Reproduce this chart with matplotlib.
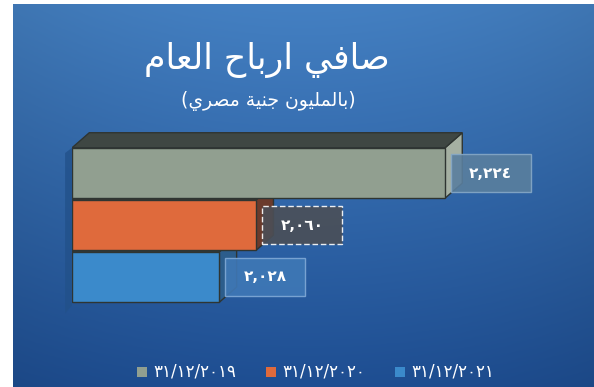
import numpy as np
import matplotlib
matplotlib.use("Agg")
import matplotlib.pyplot as plt
from matplotlib.patches import Polygon, Rectangle

# net profit per year, millions EGP
years = ["٣١/١٢/٢٠١٩", "٣١/١٢/٢٠٢٠", "٣١/١٢/٢٠٢١"]
profits = [2224, 2060, 2028]
value_labels = ["٢,٢٢٤", "٢,٠٦٠", "٢,٠٢٨"]

title = "صافي ارباح العام"
subtitle = "(بالمليون جنية مصري)"

bar_colors = ["#919f90", "#df6a3c", "#3b8acb"]
side_colors = ["#a5b0a2", "#6b3b2c", "#2c5d8c"]
top_colors = ["#3f4743", "#8a4a30", "#2c5d8c"]

# contextual Arabic forms: isolated, final[, initial, medial]
FORMS = {
    "ا": ("\uFE8D", "\uFE8E"),
    "ب": ("\uFE8F", "\uFE90", "\uFE91", "\uFE92"),
    "ة": ("\uFE93", "\uFE94"),
    "ج": ("\uFE9D", "\uFE9E", "\uFE9F", "\uFEA0"),
    "ح": ("\uFEA1", "\uFEA2", "\uFEA3", "\uFEA4"),
    "ر": ("\uFEAD", "\uFEAE"),
    "ص": ("\uFEB9", "\uFEBA", "\uFEBB", "\uFEBC"),
    "ع": ("\uFEC9", "\uFECA", "\uFECB", "\uFECC"),
    "ف": ("\uFED1", "\uFED2", "\uFED3", "\uFED4"),
    "ل": ("\uFEDD", "\uFEDE", "\uFEDF", "\uFEE0"),
    "م": ("\uFEE1", "\uFEE2", "\uFEE3", "\uFEE4"),
    "ن": ("\uFEE5", "\uFEE6", "\uFEE7", "\uFEE8"),
    "و": ("\uFEED", "\uFEEE"),
    "ي": ("\uFEF1", "\uFEF2", "\uFEF3", "\uFEF4"),
}


def shape(text):
    out = []
    for i, ch in enumerate(text):
        if ch not in FORMS:
            out.append(ch)
            continue
        prev = text[i - 1] if i > 0 else ""
        nxt = text[i + 1] if i + 1 < len(text) else ""
        joins_prev = prev in FORMS and len(FORMS[prev]) == 4
        joins_next = len(FORMS[ch]) == 4 and nxt in FORMS
        f = FORMS[ch]
        if joins_prev and joins_next:
            out.append(f[3])
        elif joins_prev:
            out.append(f[1])
        elif joins_next:
            out.append(f[2])
        else:
            out.append(f[0])
    vis = "".join(reversed(out))
    return vis.translate(str.maketrans("()", ")("))


W, H = 594, 387
fig = plt.figure(figsize=(W / 100, H / 100), dpi=100)
fig.patch.set_facecolor("white")

# blue slide background
bg = fig.add_axes([13 / W, 0, 1 - 13 / W, 383 / H], zorder=0)
top = np.array([0x44, 0x80, 0xc2]) / 255
bottom = np.array([0x1e, 0x4e, 0x92]) / 255
t = np.linspace(0, 1, 200)[:, None, None]
grad = top * (1 - t) + bottom * t
xs = np.linspace(-1, 1, 300)[None, :, None]
grad = grad * (1 - 0.08 * xs ** 2)
bg.imshow(np.clip(grad, 0, 1), aspect="auto", extent=[0, 1, 0, 1])
bg.axis("off")

fig.text(267 / W, 1 - 60 / H, shape(title), color="white", fontsize=25,
         ha="center", va="center", family="DejaVu Sans")
fig.text(268 / W, 1 - 101 / H, shape(subtitle), color="white", fontsize=13.5,
         ha="center", va="center", family="DejaVu Sans")

x0, x1 = 1900, 2300
ax = fig.add_axes([72 / W, 77 / H, 460.5 / W, 190 / H], zorder=1)
ax.set_xlim(x0, x1)
ax.set_ylim(-0.635, 3.02)
ax.axis("off")
ax.patch.set_alpha(0)

ypos = [2, 1, 0]
h = 0.97
dx, dy = 15, 0.29  # depth of the 3D bars

# dark edge of the side wall left of the bars
ax.add_patch(Polygon([(x0 - 6, -0.7), (x0, -0.55), (x0, 2 + h / 2),
                      (x0 - 6, 2 + h / 2 - 0.1)], closed=True,
                     facecolor="#22518a", edgecolor="none", alpha=0.8,
                     zorder=1, clip_on=False))

for v, y, sc, tc in zip(profits, ypos, side_colors, top_colors):
    side = Polygon([(v, y - h / 2), (v, y + h / 2), (v + dx, y + h / 2 + dy),
                    (v + dx, y - h / 2 + dy)], closed=True, facecolor=sc,
                   edgecolor="#2f3532", lw=1, zorder=1)
    topf = Polygon([(x0, y + h / 2), (v, y + h / 2), (v + dx, y + h / 2 + dy),
                    (x0 + dx, y + h / 2 + dy)], closed=True, facecolor=tc,
                   edgecolor="#2f3532", lw=1, zorder=1)
    ax.add_patch(side)
    ax.add_patch(topf)

ax.barh(ypos, [v - x0 for v in profits], left=x0, height=h, color=bar_colors,
        edgecolor="#2f3532", linewidth=1, zorder=2)

# value boxes next to each bar
box_w, box_h = 69.5, 0.73
box_face = ["#5a7f9e", "#4b4f57", "#3f78b6"]
box_edge = ["#86a8c6", "white", "#80a9d6"]
box_ls = ["-", (0, (4, 2)), "-"]
for v, y, lab, fc, ec, ls in zip(profits, ypos, value_labels, box_face, box_edge, box_ls):
    bx = v + 5
    ax.add_patch(Rectangle((bx, y - box_h / 2), box_w, box_h, facecolor=fc,
                           edgecolor=ec, lw=1, linestyle=ls, alpha=0.9, zorder=3))
    ax.text(bx + box_w / 2, y, lab, color="white", fontsize=11, fontweight="bold",
            ha="center", va="center", zorder=4, family="DejaVu Sans")

# legend along the bottom
leg_x, leg_step, leg_y = 137, 129, 372
for i, (lab, c) in enumerate(zip(years, bar_colors)):
    sx = leg_x + i * leg_step
    fig.patches.append(Rectangle((sx / W, 1 - (leg_y + 5) / H), 10 / W, 10 / H,
                                 facecolor=c, edgecolor="none",
                                 transform=fig.transFigure, figure=fig))
    fig.text((sx + 16) / W, 1 - leg_y / H, lab, color="white", fontsize=12,
             ha="left", va="center", family="DejaVu Sans")

fig.savefig("out.png", dpi=100)
